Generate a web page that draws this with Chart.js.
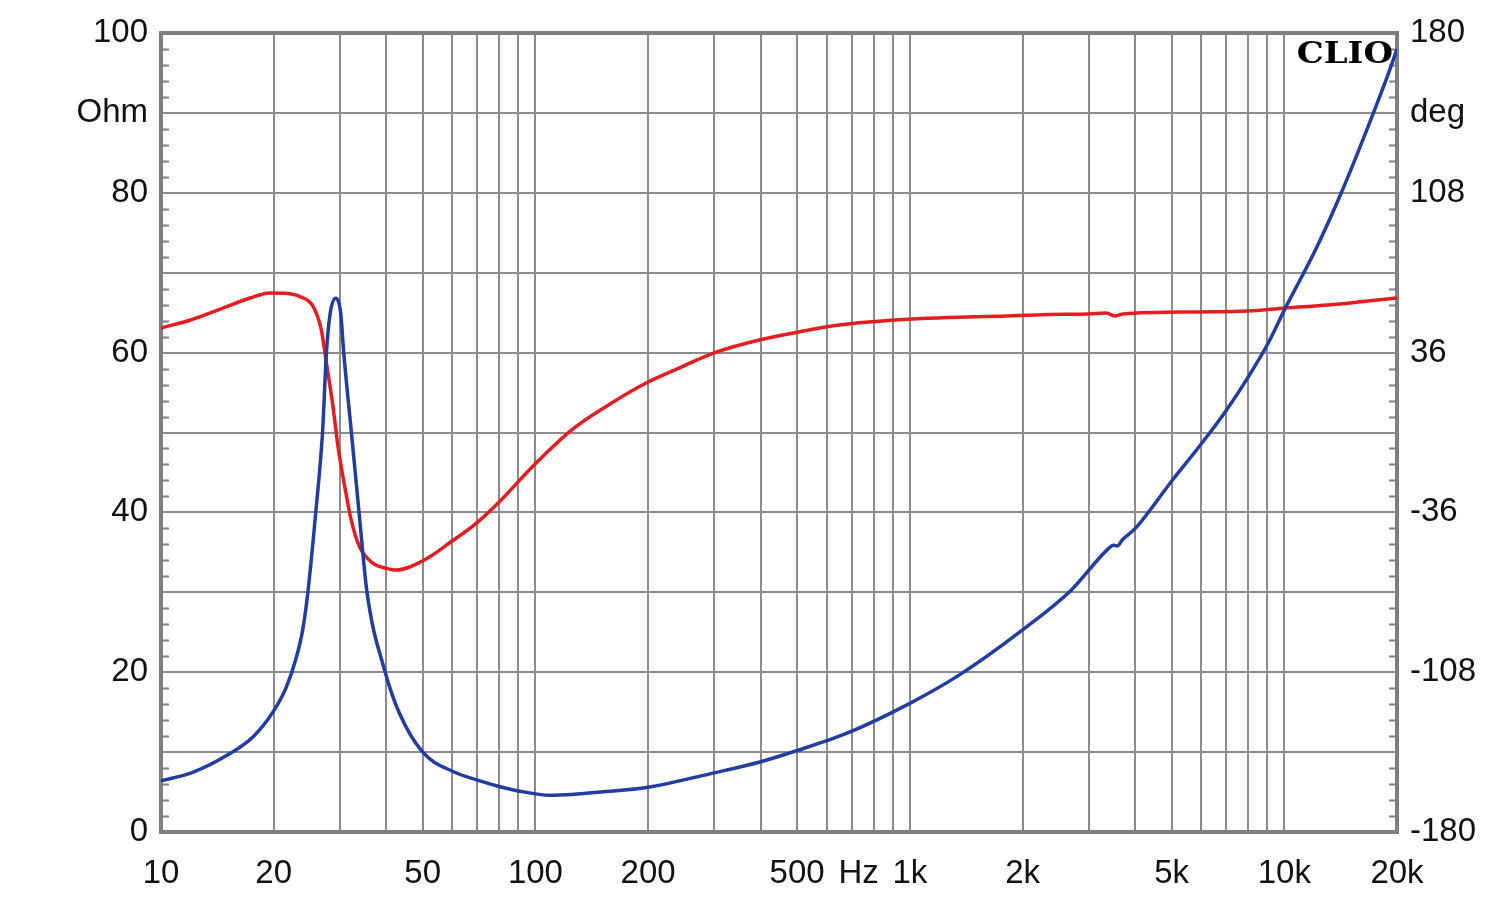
<!DOCTYPE html>
<html>
<head>
<meta charset="utf-8">
<script src="https://cdn.jsdelivr.net/npm/chart.js@4.4.1/dist/chart.umd.min.js"></script>
<style>
  html, body { margin: 0; padding: 0; background: #fff; }
  canvas { display: block; }
</style>
</head>
<body>
<canvas id="myImpedanceChart" width="1500" height="899"></canvas>
<script>
// impedance magnitude (blue, left axis, Ohm)
const impFreq = [10, 12.2, 15, 17.6, 19.9, 21.6, 23, 23.9, 24.66, 25.9, 27, 27.66, 28.3, 29.3, 30.2, 30.76, 32.25,
  33.8, 35.5, 39.7, 43.3, 50, 60, 70, 80, 91, 109, 125, 150, 200, 300, 400, 500, 690, 1000, 1350, 2000,
  2700, 3380, 3500, 3580, 3700, 4000, 5000, 5870, 6960, 8000, 9060, 10070, 12100, 14200, 17500, 19200, 20000];
const impOhm = [6.4, 7.5, 9.6, 11.9, 15.0, 18.1, 21.9, 25.3, 29.9, 40.0, 50.0, 60.0, 64.9, 66.8, 64.9, 60.0, 50.0,
  40.0, 30.0, 20.0, 14.9, 10.0, 7.6, 6.5, 5.7, 5.1, 4.6, 4.7, 5.0, 5.6, 7.4, 8.8, 10.2, 12.5, 16.1, 19.6, 25.3,
  30.3, 35.4, 35.9, 35.8, 36.6, 38.0, 43.9, 48.0, 52.6, 56.9, 61.2, 65.6, 72.8, 80.0, 90.6, 95.6, 98.0];

// impedance phase (red, right axis, deg)
const phaseFreq = [10, 12, 14.4, 17.3, 19.5, 21.5, 23.5, 25.5, 26.8, 27.66, 28.8, 29.7, 30.96, 32.2, 33.9, 36.8,
  40, 42.5, 46.1, 52.1, 58.9, 69.6, 80, 98, 125, 154, 198, 246, 300, 396, 505, 618, 809, 992, 1270, 1720, 2350,
  3000, 3340, 3540, 3710, 5870, 8000, 10070, 13100, 16700, 20000];
const phaseDeg = [47.1, 50.7, 55.6, 60.6, 62.9, 62.7, 61.2, 56.7, 46.2, 31.2, 11.6, -6.4, -24.4, -39.4, -51.5, -58.9,
  -61.2, -62.0, -60.6, -56.1, -49.8, -40.8, -31.3, -15.5, 1.2, 11.6, 22.4, 29.6, 35.9, 41.7, 45.3, 48.0, 50.0, 51.0,
  51.8, 52.4, 53.2, 53.4, 53.8, 52.5, 53.4, 54.3, 54.7, 56.1, 57.4, 59.2, 60.6];

const xGrid = [10, 20, 30, 40, 50, 60, 70, 80, 90, 100, 200, 300, 400, 500, 600, 700, 800, 900,
  1000, 2000, 3000, 4000, 5000, 6000, 7000, 8000, 9000, 10000, 20000];
const xTickValues = [10, 20, 50, 100, 200, 500, 730, 1000, 2000, 5000, 10000, 20000];
const xTickText = ["10", "20", "50", "100", "200", "500", "Hz", "1k", "2k", "5k", "10k", "20k"];

const gridColor = "#8c8c8c";
const labelFont = { family: "'Liberation Sans', Arial, sans-serif", size: 33 };

const framePlugin = {
  id: "frame",
  beforeDatasetsDraw(chart) {
    const ctx = chart.ctx;
    const a = chart.chartArea;
    const y = chart.scales.y;
    ctx.save();
    ctx.strokeStyle = "#7f7f7f";
    ctx.lineWidth = 2;
    for (let v = 2; v < 100; v += 2) {
      if (v % 10 === 0) continue;
      const py = Math.round(y.getPixelForValue(v)) + 0.5;
      ctx.beginPath();
      ctx.moveTo(a.left, py); ctx.lineTo(a.left + 8, py);
      ctx.moveTo(a.right - 8, py); ctx.lineTo(a.right, py);
      ctx.stroke();
    }
    ctx.lineWidth = 4;
    ctx.strokeRect(a.left, a.top, a.right - a.left, a.bottom - a.top);
    // CLIO mark, slightly widened like the original
    ctx.fillStyle = "#000";
    ctx.font = "bold 30px 'DejaVu Serif', serif";
    ctx.textAlign = "right";
    ctx.textBaseline = "alphabetic";
    ctx.translate(a.right - 4, a.top + 30);
    ctx.scale(1.13, 1);
    ctx.fillText("CLIO", 0, 0);
    ctx.restore();
  }
};

const impedanceChart = document.getElementById("myImpedanceChart").getContext("2d");
let myChart = new Chart(impedanceChart, {
  type: "line",
  data: {
    datasets: [
      {
        label: "Impedance",
        data: impFreq.map((f, i) => ({ x: f, y: impOhm[i] })),
        borderColor: "rgb(35, 60, 160)",
        borderWidth: 3.5,
        yAxisID: "y",
      },
      {
        label: "Phase",
        data: phaseFreq.map((f, i) => ({ x: f, y: phaseDeg[i] })),
        borderColor: "rgb(228, 30, 32)",
        borderWidth: 3.5,
        yAxisID: "y2",
      },
    ],
  },
  options: {
    responsive: false,
    animation: false,
    elements: {
      point: { radius: 0 },
      line: { cubicInterpolationMode: "monotone" }
    },
    layout: { padding: { top: 33, left: 0, right: 0, bottom: 0 } },
    plugins: {
      legend: { display: false },
      tooltip: { enabled: false },
    },
    scales: {
      x: {
        type: "logarithmic",
        min: 10,
        max: 20000,
        afterBuildTicks: (scale) => {
          scale.ticks = xGrid.concat([730]).sort((a, b) => a - b).map(v => ({ value: v }));
        },
        afterFit: (scale) => { scale.height = 67; },
        border: { display: false },
        grid: {
          color: (c) => (c.tick && c.tick.value === 730 ? "rgba(0,0,0,0)" : gridColor),
          lineWidth: 2,
          drawTicks: false,
        },
        ticks: {
          autoSkip: false,
          maxRotation: 0,
          padding: 22,
          color: "#111",
          font: labelFont,
          callback: (v) => {
            const i = xTickValues.indexOf(Number(v));
            return i >= 0 ? xTickText[i] : "";
          }
        }
      },
      y: {
        position: "left",
        min: 0,
        max: 100,
        afterFit: (scale) => { scale.width = 161; },
        border: { display: false },
        grid: { color: gridColor, lineWidth: 2, drawTicks: false },
        ticks: {
          stepSize: 10,
          padding: 13,
          color: "#111",
          font: labelFont,
          callback: (v) => (v === 90 ? "Ohm" : (v % 20 === 0 ? v : ""))
        }
      },
      y2: {
        position: "right",
        min: -180,
        max: 180,
        afterFit: (scale) => { scale.width = 103; },
        border: { display: false },
        grid: { display: false, drawTicks: false },
        ticks: {
          stepSize: 36,
          padding: 13,
          color: "#111",
          font: labelFont,
          callback: (v) => {
            const r = Math.round(v);
            if (r === 144) return "deg";
            return ((r + 180) % 72 === 0) ? r : "";
          }
        }
      }
    }
  },
  plugins: [framePlugin]
});
</script>
</body>
</html>
